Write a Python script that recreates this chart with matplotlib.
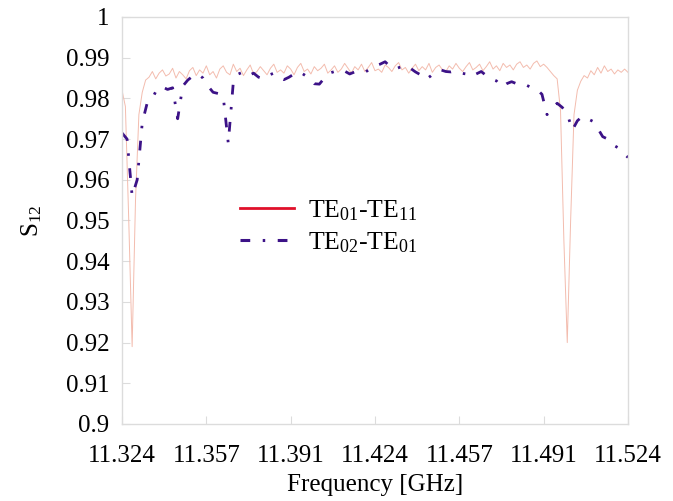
import numpy as np
import matplotlib
matplotlib.use("Agg")
import matplotlib.pyplot as plt
from matplotlib.lines import Line2D

plt.rcParams['font.family'] = ['Liberation Serif', 'DejaVu Serif']
plt.rcParams['mathtext.fontset'] = 'custom'
plt.rcParams['mathtext.rm'] = 'Liberation Serif'
plt.rcParams['lines.scale_dashes'] = False

# sweep limits (GHz)
f_start, f_stop = 11.324, 11.524

# TE01-TE11 coupling, 151 samples across the sweep
s12_te01_te11 = [
    0.9820, 0.9780, 0.9500, 0.9190, 0.9550, 0.9760, 0.9815, 0.9845,
    0.9852, 0.9866, 0.9848, 0.9862, 0.9870, 0.9855, 0.9860, 0.9874, 0.9850, 0.9866,
    0.9858, 0.9848, 0.9868, 0.9876, 0.9856, 0.9870, 0.9862, 0.9880, 0.9858, 0.9866,
    0.9850, 0.9872, 0.9880, 0.9864, 0.9858, 0.9884, 0.9866, 0.9874,
    0.9856, 0.9870, 0.9882, 0.9860, 0.9866, 0.9878, 0.9868, 0.9858, 0.9874, 0.9884,
    0.9864, 0.9870, 0.9862, 0.9880, 0.9872, 0.9858, 0.9876, 0.9886, 0.9866, 0.9872,
    0.9860, 0.9878, 0.9868, 0.9874, 0.9884, 0.9862, 0.9870, 0.9880, 0.9864, 0.9872,
    0.9886, 0.9874, 0.9862, 0.9878, 0.9870, 0.9884, 0.9866, 0.9876, 0.9888, 0.9868,
    0.9872, 0.9864, 0.9882, 0.9876, 0.9866, 0.9880, 0.9888, 0.9870, 0.9876, 0.9862,
    0.9874, 0.9884, 0.9868, 0.9878, 0.9870, 0.9886, 0.9864, 0.9876, 0.9882, 0.9870,
    0.9866, 0.9880, 0.9872, 0.9886, 0.9874, 0.9866, 0.9878, 0.9888, 0.9870, 0.9876,
    0.9884, 0.9868, 0.9878, 0.9890, 0.9872, 0.9880, 0.9868, 0.9886, 0.9876, 0.9882,
    0.9870, 0.9884, 0.9890, 0.9876, 0.9882, 0.9872, 0.9886, 0.9892, 0.9878, 0.9884,
    0.9876, 0.9866, 0.9856,
    0.9848, 0.9770, 0.9450, 0.9200, 0.9500, 0.9760, 0.9820, 0.9842, 0.9856, 0.9850,
    0.9868, 0.9858, 0.9876, 0.9862, 0.9880, 0.9866, 0.9872, 0.9860, 0.9870, 0.9864,
    0.9872, 0.9864,
]

# TE02-TE01 coupling, 101 samples across the sweep
s12_te02_te01 = [
    0.9715, 0.9700, 0.9560, 0.9600, 0.9740, 0.9790, 0.9800, 0.9825, 0.9828, 0.9822,
    0.9826, 0.9750, 0.9830, 0.9845, 0.9855, 0.9860, 0.9850, 0.9830, 0.9815, 0.9812,
    0.9805, 0.9690, 0.9840, 0.9860, 0.9865, 0.9856, 0.9862, 0.9852, 0.9848, 0.9857,
    0.9862, 0.9852, 0.9846, 0.9852, 0.9860, 0.9866, 0.9858, 0.9850, 0.9836, 0.9835,
    0.9850, 0.9862, 0.9866, 0.9862, 0.9867, 0.9860, 0.9865, 0.9868, 0.9864, 0.9872,
    0.9880, 0.9884, 0.9890, 0.9878, 0.9872, 0.9877, 0.9882, 0.9874, 0.9865, 0.9858,
    0.9846, 0.9855, 0.9866, 0.9870, 0.9866, 0.9865, 0.9868, 0.9862, 0.9860, 0.9853,
    0.9860, 0.9866, 0.9856, 0.9848, 0.9843, 0.9828, 0.9836, 0.9841, 0.9836, 0.9838,
    0.9832, 0.9826, 0.9822, 0.9810, 0.9760, 0.9775, 0.9788, 0.9778, 0.9762, 0.9722,
    0.9745, 0.9756, 0.9750, 0.9744, 0.9727, 0.9706, 0.9700, 0.9686, 0.9679, 0.9666,
    0.9655,
]

x_ticklabels = ['11.324', '11.357', '11.391', '11.424', '11.457', '11.491', '11.524']
y_ticks = [0.9, 0.91, 0.92, 0.93, 0.94, 0.95, 0.96, 0.97, 0.98, 0.99, 1.0]
y_ticklabels = ['0.9', '0.91', '0.92', '0.93', '0.94', '0.95', '0.96', '0.97', '0.98', '0.99', '1']

red = '#e0102a'
red_pale = '#f3bcae'
blue = '#3c1287'
dash_pat = (7, 9, 1.8, 9)

freq_a = np.linspace(f_start, f_stop, len(s12_te01_te11))
freq_b = np.linspace(f_start, f_stop, len(s12_te02_te01))

fig = plt.figure(figsize=(6.73, 5.01), dpi=100)
ax = fig.add_axes([0.1813, 0.1537, 0.7518, 0.8124])

ax.plot(freq_a, s12_te01_te11, color=red_pale, lw=0.7)
ax.plot(freq_b, s12_te02_te01, color=blue, lw=2.0, dashes=dash_pat)

ax.set_xlim(f_start, f_stop)
ax.set_ylim(0.9, 1.0)
ax.set_xticks(np.linspace(f_start, f_stop, len(x_ticklabels)))
ax.set_xticklabels(x_ticklabels)
ax.set_yticks(y_ticks)
ax.set_yticklabels(y_ticklabels)

for sp in ax.spines.values():
    sp.set_color('#dcdcdc')
    sp.set_linewidth(1.0)
ax.tick_params(direction='in', length=6, color='#dcdcdc', labelsize=18)
ax.tick_params(axis='x', pad=15)
ax.tick_params(axis='y', pad=9)

ax.set_xlabel('Frequency [GHz]', fontsize=18, labelpad=5)
ax.set_ylabel(r'S$\mathregular{_{12}}$', fontsize=18, labelpad=16)

handles = [Line2D([], [], color=red, lw=2),
           Line2D([], [], color=blue, lw=2.2, dashes=dash_pat)]
labels = [r'TE$\mathregular{_{01}}$-TE$\mathregular{_{11}}$',
          r'TE$\mathregular{_{02}}$-TE$\mathregular{_{01}}$']
ax.legend(handles, labels, loc='upper left', bbox_to_anchor=(0.233, 0.555),
          frameon=False, fontsize=18.5, handlelength=2.1, handletextpad=0.55,
          labelspacing=0.3, borderaxespad=0, borderpad=0)

fig.savefig('out.png', dpi=100)
